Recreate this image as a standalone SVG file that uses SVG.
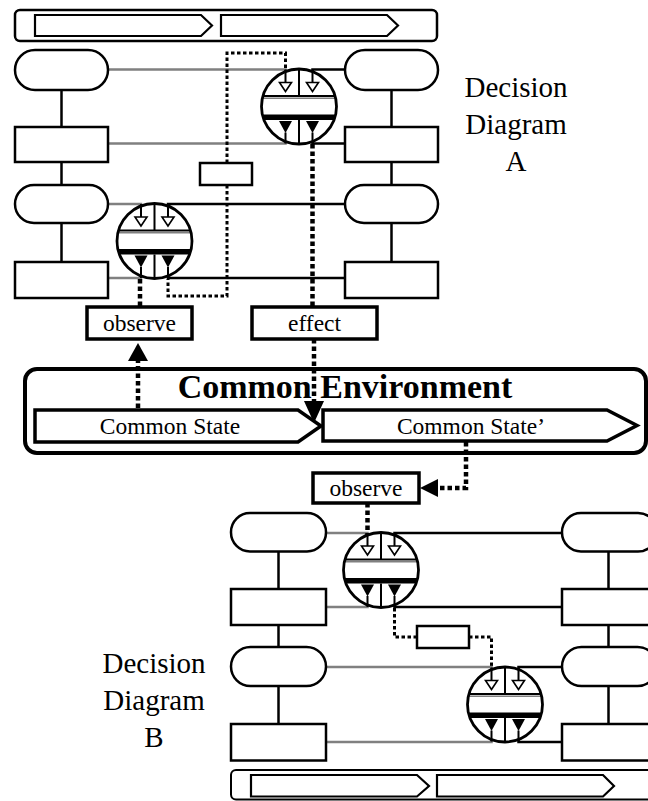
<svg xmlns="http://www.w3.org/2000/svg" xmlns:xlink="http://www.w3.org/1999/xlink" width="648" height="801" viewBox="0 0 648 801">
<style>
  .box { fill: #fff; stroke: #000; stroke-width: 2.5; }
  .bold { fill: #fff; stroke: #000; stroke-width: 3.5; }
  .chev { fill: #fff; stroke: #000; stroke-width: 2.2; }
  .blk { fill: none; stroke: #000; stroke-width: 2.5; }
  .gry { fill: none; stroke: #808080; stroke-width: 2.5; }
  .dot { fill: none; stroke: #000; stroke-width: 3; stroke-dasharray: 3.5 2.5; }
  .dotb { fill: none; stroke: #000; stroke-width: 4.5; stroke-dasharray: 4.5 3; }
  .lbl { font-family: "Liberation Serif", "Times New Roman", serif; font-size: 23.5px; text-anchor: middle; fill: #000; }
  .big { font-family: "Liberation Serif", "Times New Roman", serif; font-size: 29px; text-anchor: middle; fill: #000; }
  .title { font-family: "Liberation Serif", "Times New Roman", serif; font-size: 34px; font-weight: bold; text-anchor: middle; fill: #000; }
</style>
<defs>
  <clipPath id="disc"><circle cx="0" cy="0" r="37"/></clipPath>
  <!-- decision junction: two inputs on top, two outputs below -->
  <g id="junction">
    <circle cx="0" cy="0" r="37.5" fill="#fff"/>
    <g clip-path="url(#disc)">
      <line x1="-40" y1="-10.5" x2="40" y2="-10.5" stroke="#000" stroke-width="2"/>
      <line x1="-40" y1="-8.3" x2="40" y2="-8.3" stroke="#808080" stroke-width="1.6"/>
      <rect x="-40" y="8" width="80" height="5.5" fill="#000"/>
      <line x1="0" y1="-40" x2="0" y2="-10.5" stroke="#000" stroke-width="2"/>
      <line x1="0" y1="13.5" x2="0" y2="40" stroke="#000" stroke-width="2"/>
    </g>
    <line x1="-13.5" y1="-37" x2="-13.5" y2="-24" stroke="#000" stroke-width="2"/>
    <line x1="13.5" y1="-37" x2="13.5" y2="-24" stroke="#000" stroke-width="2"/>
    <line x1="-13.5" y1="26" x2="-13.5" y2="37" stroke="#000" stroke-width="2"/>
    <line x1="13.5" y1="26" x2="13.5" y2="37" stroke="#000" stroke-width="2"/>
    <polygon points="-19.5,-24 -7.5,-24 -13.5,-15" fill="#fff" stroke="#000" stroke-width="1.6"/>
    <polygon points="7.5,-24 19.5,-24 13.5,-15" fill="#fff" stroke="#000" stroke-width="1.6"/>
    <polygon points="-20,14.5 -7,14.5 -13.5,26.5" fill="#000"/>
    <polygon points="7,14.5 20,14.5 13.5,26.5" fill="#000"/>
    <circle cx="0" cy="0" r="37.5" fill="none" stroke="#000" stroke-width="2.8"/>
  </g>
</defs>

<rect width="648" height="801" fill="#fff"/>

<!-- connectors -->
<g id="connectors">
  <!-- diagram A : chain links -->
  <line class="blk" x1="61.5" y1="90" x2="61.5" y2="127"/>
  <line class="blk" x1="61.5" y1="162" x2="61.5" y2="185"/>
  <line class="blk" x1="61.5" y1="223" x2="61.5" y2="262"/>
  <line class="blk" x1="391.5" y1="90" x2="391.5" y2="127"/>
  <line class="blk" x1="391.5" y1="162" x2="391.5" y2="185"/>
  <line class="blk" x1="391.5" y1="223" x2="391.5" y2="262"/>
  <!-- junction A1 -->
  <polyline class="gry" points="108,69.5 285.5,69.5 285.5,72"/>
  <polyline class="blk" points="345,69.5 312.5,69.5 312.5,72"/>
  <polyline class="gry" points="285.5,141 285.5,143.5 108,143.5"/>
  <polyline class="blk" points="312.5,141 312.5,143.5 345,143.5"/>
  <polyline class="dot" points="227,163 227,53 285.5,53 285.5,71"/>
  <line class="dotb" x1="312.5" y1="144" x2="312.5" y2="307"/>
  <!-- junction A2 -->
  <polyline class="gry" points="108,204 141,204 141,207"/>
  <polyline class="blk" points="345,204 168,204 168,207"/>
  <polyline class="gry" points="141,275 141,278 108,278"/>
  <polyline class="blk" points="168,275 168,278 345,278"/>
  <polyline class="dot" points="227,185 227,296 168,296 168,279"/>
  <line class="dotb" x1="140" y1="279" x2="140" y2="307"/>
  <!-- environment links -->
  <line class="dotb" x1="138" y1="408" x2="138" y2="360"/>
  <polygon points="128,361 148,361 138,343" fill="#000"/>
  <line class="dotb" x1="314" y1="339" x2="314" y2="402"/>
  <polygon points="304,401 324,401 314,423" fill="#000"/>
  <polyline class="dotb" points="466,442 466,488 437,488"/>
  <polygon points="438,479 438,497 420,488" fill="#000"/>
  <!-- diagram B : chain links -->
  <line class="blk" x1="278.5" y1="551.5" x2="278.5" y2="589"/>
  <line class="blk" x1="278.5" y1="625" x2="278.5" y2="647"/>
  <line class="blk" x1="278.5" y1="686" x2="278.5" y2="724"/>
  <line class="blk" x1="608.5" y1="551.5" x2="608.5" y2="589"/>
  <line class="blk" x1="608.5" y1="625" x2="608.5" y2="647"/>
  <line class="blk" x1="608.5" y1="686" x2="608.5" y2="724"/>
  <!-- junction B1 -->
  <polyline class="gry" points="326,533 367.5,533 367.5,536"/>
  <polyline class="blk" points="562,533 394.5,533 394.5,536"/>
  <polyline class="gry" points="367.5,604 367.5,607 326,607"/>
  <polyline class="blk" points="394.5,604 394.5,607 562,607"/>
  <line class="dotb" x1="367.5" y1="503" x2="367.5" y2="535"/>
  <polyline class="dot" points="394.5,608 394.5,637 417,637"/>
  <polyline class="dot" points="469,637 491.5,637 491.5,668"/>
  <!-- junction B2 -->
  <polyline class="gry" points="326,667 491.5,667 491.5,670"/>
  <polyline class="blk" points="562,667 518.5,667 518.5,670"/>
  <polyline class="gry" points="491.5,739 491.5,742 326,742"/>
  <polyline class="blk" points="518.5,739 518.5,742 562,742"/>
</g>

<!-- diagram A -->
<g id="timelineA">
  <rect class="box" x="15" y="10" width="422" height="31" rx="5"/>
  <polygon class="chev" points="35,15 201,15 212,25.5 201,36 35,36"/>
  <polygon class="chev" points="221,15 387,15 398,25.5 387,36 221,36"/>
</g>
<g id="a-term1l"><rect class="box" x="15" y="50" width="93" height="40" rx="20"/></g>
<g id="a-term1r"><rect class="box" x="345" y="50" width="93" height="40" rx="20"/></g>
<g id="a-rect1l"><rect class="box" x="15" y="127" width="93" height="35"/></g>
<g id="a-rect1r"><rect class="box" x="345" y="127" width="93" height="35"/></g>
<g id="a-term2l"><rect class="box" x="15" y="185" width="93" height="38" rx="19"/></g>
<g id="a-term2r"><rect class="box" x="345" y="185" width="93" height="38" rx="19"/></g>
<g id="a-rect2l"><rect class="box" x="15" y="262" width="93" height="36"/></g>
<g id="a-rect2r"><rect class="box" x="345" y="262" width="93" height="36"/></g>
<g id="a-junction1" transform="translate(299,106.5)"><use href="#junction" xlink:href="#junction"/></g>
<g id="a-junction2" transform="translate(154.5,241)"><use href="#junction" xlink:href="#junction"/></g>
<g id="a-link"><rect class="box" x="200" y="163" width="52" height="22"/></g>
<g id="a-observe">
  <rect class="bold" x="87" y="307" width="105" height="32"/>
  <text class="lbl" x="139.5" y="331">observe</text>
</g>
<g id="a-effect">
  <rect class="bold" x="252" y="307" width="125" height="32"/>
  <text class="lbl" x="314.5" y="331">effect</text>
</g>
<g id="labelA">
  <text class="big" x="516" y="97">Decision</text>
  <text class="big" x="516" y="134">Diagram</text>
  <text class="big" x="516" y="171">A</text>
</g>

<!-- shared environment -->
<g id="environment">
  <rect x="25" y="369" width="621" height="84" rx="12" fill="none" stroke="#000" stroke-width="4"/>
  <text class="title" x="345" y="398">Common Environment</text>
</g>
<g id="state">
  <polygon class="bold" points="35,410 298,410 321,426 298,442 35,442"/>
  <text class="lbl" x="170" y="434">Common State</text>
</g>
<g id="state-next">
  <polygon class="bold" points="323,410 607,410 637,425.5 607,441 323,441"/>
  <text class="lbl" x="471" y="434">Common State’</text>
</g>

<!-- diagram B -->
<g id="b-observe">
  <rect class="bold" x="313" y="473" width="106" height="30"/>
  <text class="lbl" x="366" y="496">observe</text>
</g>
<g id="b-term1l"><rect class="box" x="231" y="513" width="95" height="38.5" rx="19"/></g>
<g id="b-term1r"><rect class="box" x="562" y="513" width="95" height="38.5" rx="19"/></g>
<g id="b-rect1l"><rect class="box" x="231" y="589" width="95" height="36"/></g>
<g id="b-rect1r"><rect class="box" x="562" y="589" width="95" height="36"/></g>
<g id="b-term2l"><rect class="box" x="231" y="647" width="95" height="39" rx="19.5"/></g>
<g id="b-term2r"><rect class="box" x="562" y="647" width="95" height="39" rx="19.5"/></g>
<g id="b-rect2l"><rect class="box" x="231" y="724" width="95" height="36.5"/></g>
<g id="b-rect2r"><rect class="box" x="562" y="724" width="95" height="36.5"/></g>
<g id="b-junction1" transform="translate(381,570)"><use href="#junction" xlink:href="#junction"/></g>
<g id="b-junction2" transform="translate(505,704.5)"><use href="#junction" xlink:href="#junction"/></g>
<g id="b-link"><rect class="box" x="417" y="626" width="52" height="22"/></g>
<g id="timelineB">
  <rect x="231" y="770" width="440" height="29.5" rx="5" fill="#fff" stroke="#000" stroke-width="2"/>
  <polygon class="chev" points="251,775 417,775 429,786 417,796.5 251,796.5"/>
  <polygon class="chev" points="437,775 603,775 614,786 603,796.5 437,796.5"/>
</g>
<g id="labelB">
  <text class="big" x="154" y="673">Decision</text>
  <text class="big" x="154" y="710">Diagram</text>
  <text class="big" x="154" y="747">B</text>
</g>
</svg>
